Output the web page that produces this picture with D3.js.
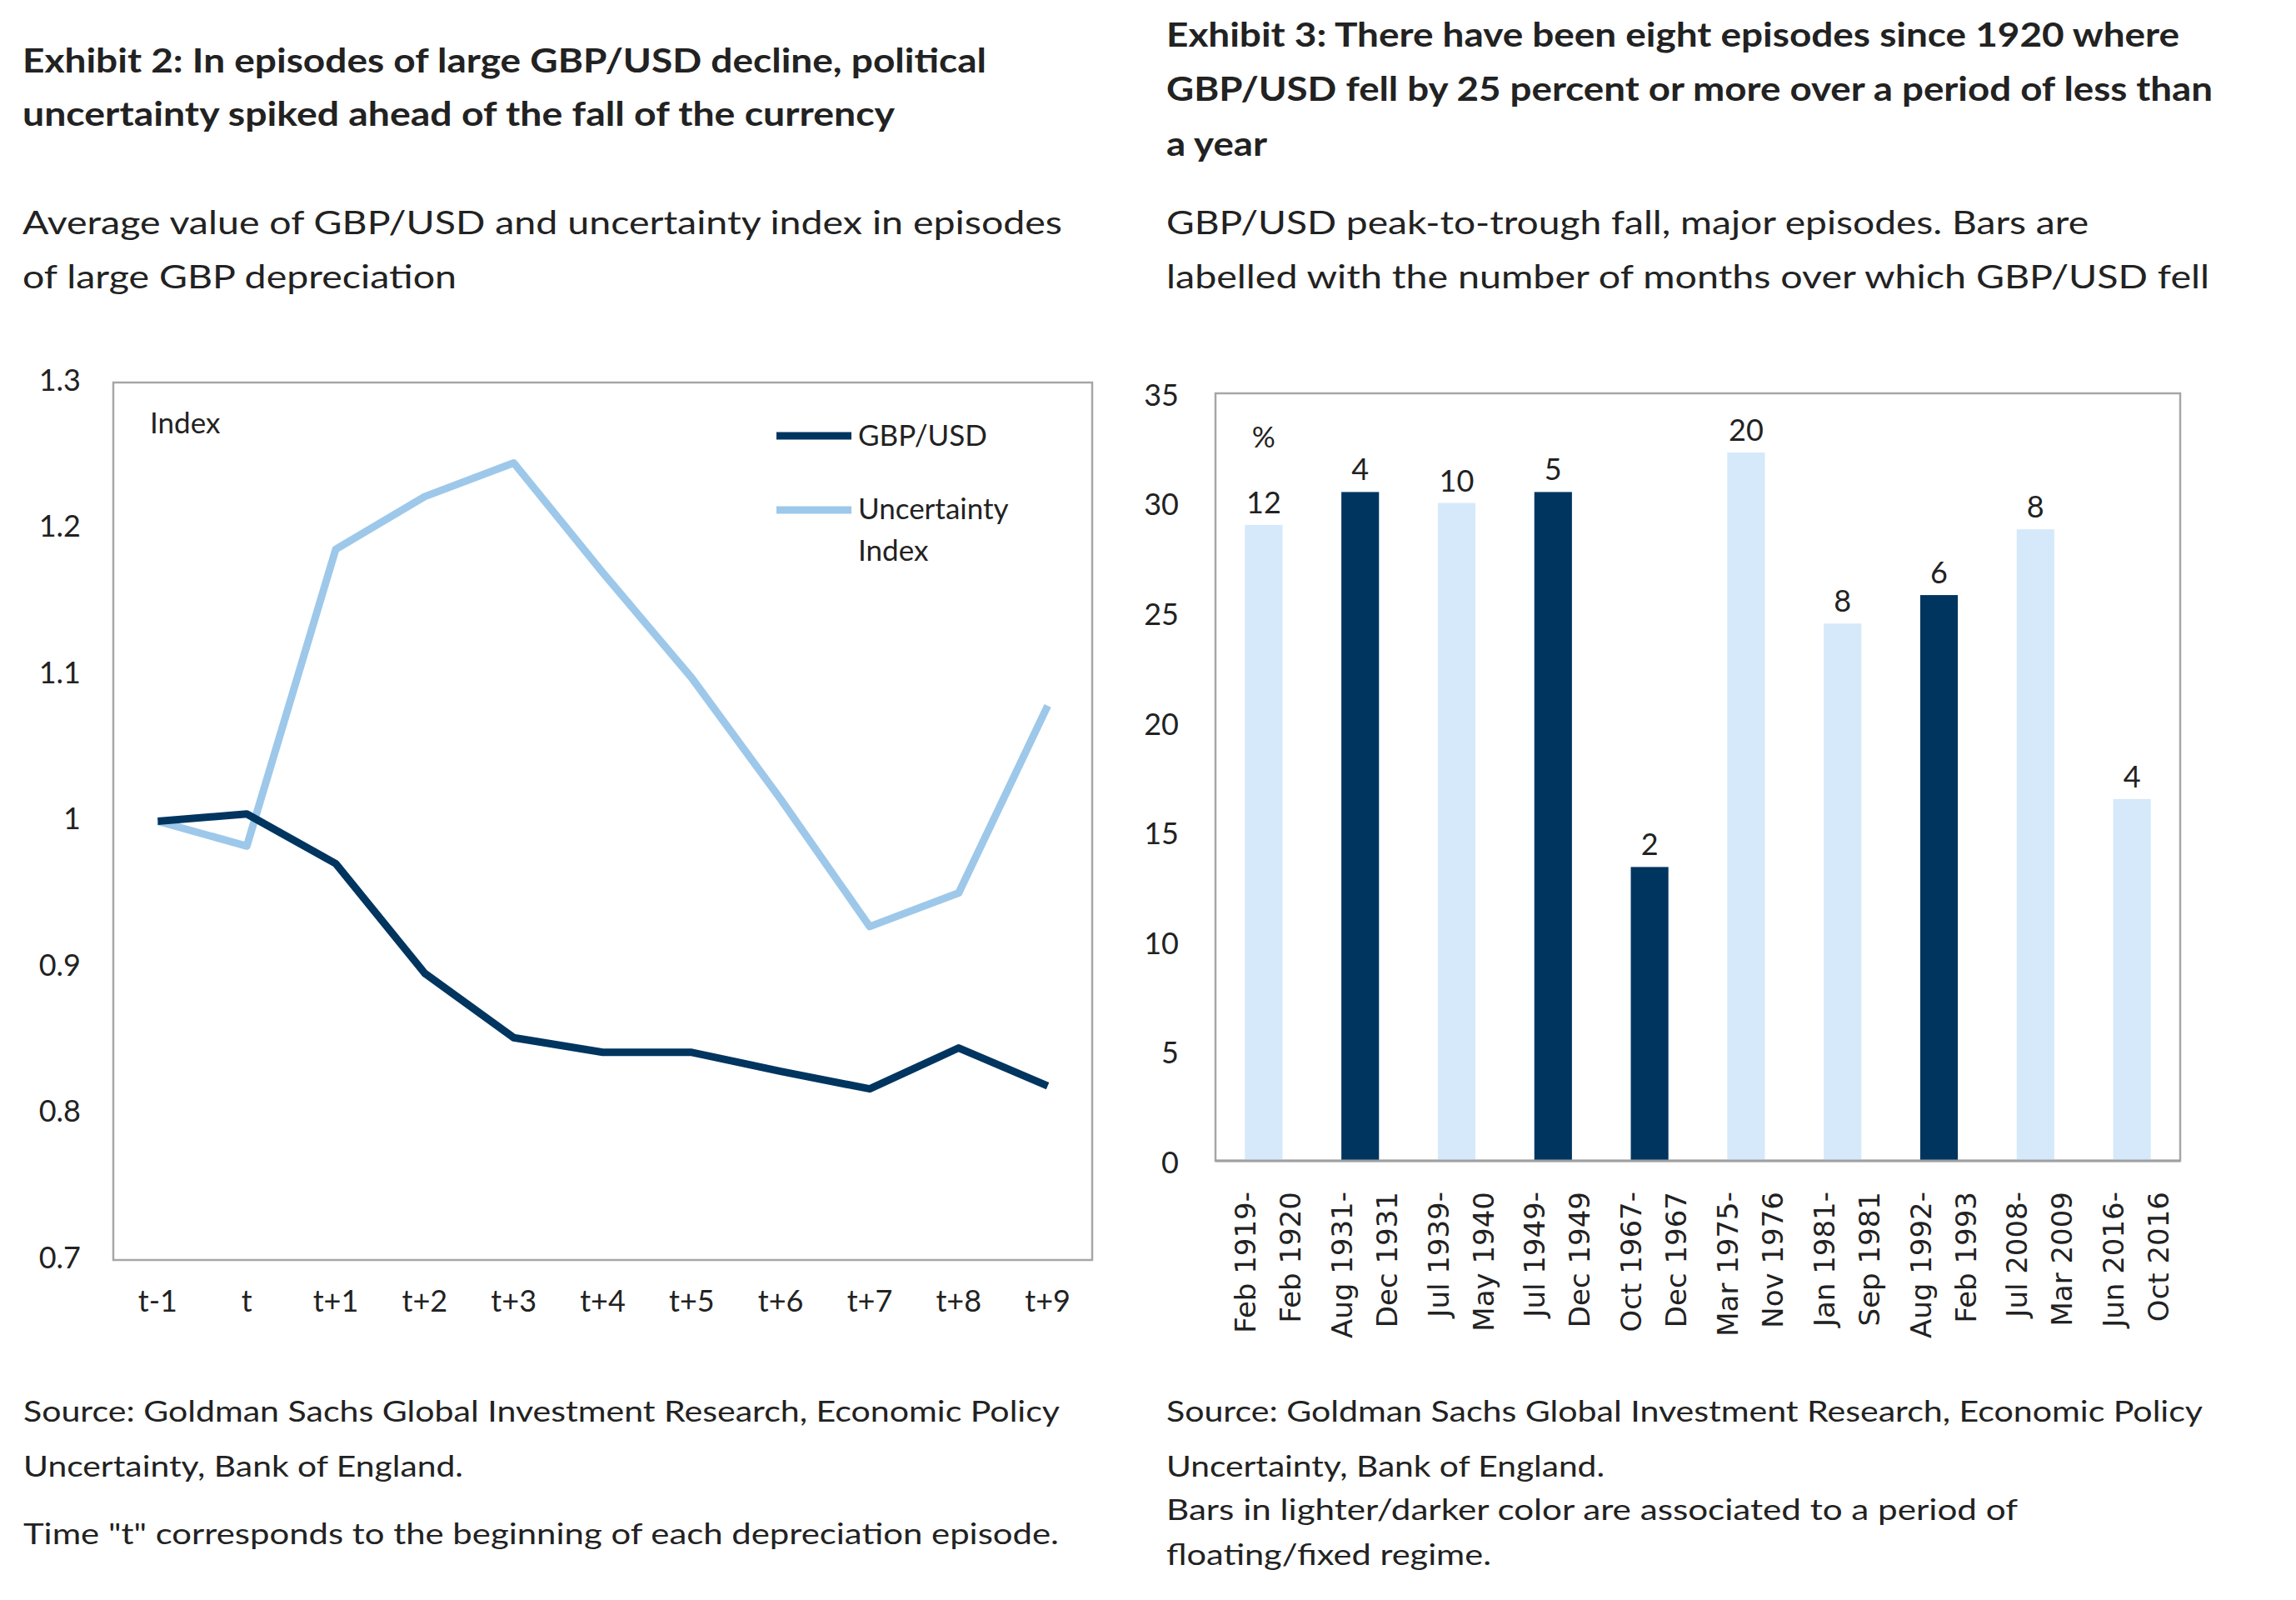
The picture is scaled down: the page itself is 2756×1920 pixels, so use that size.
<!DOCTYPE html>
<html>
<head>
<meta charset="utf-8">
<script src="https://cdn.jsdelivr.net/npm/d3@7"></script>
<style>
  body { margin: 0; background: #fff; }
  text { font-family: Lato, "Open Sans", sans-serif; fill: #222; }
  .xlab { font-family: "DejaVu Sans", sans-serif; }
</style>
</head>
<body>
<svg id="chart" width="2756" height="1920"></svg>
<script>
// Exhibit 2: average GBP/USD and uncertainty index around depreciation episodes
const periods = ['t-1', 't', 't+1', 't+2', 't+3', 't+4', 't+5', 't+6', 't+7', 't+8', 't+9'];
const gbpUsd = [1.000, 1.005, 0.971, 0.896, 0.852, 0.842, 0.842, 0.829, 0.817, 0.845, 0.819];
const uncertainty = [1.000, 0.983, 1.186, 1.222, 1.245, 1.170, 1.098, 1.015, 0.928, 0.951, 1.079];
const lineTicks = [0.7, 0.8, 0.9, 1.0, 1.1, 1.2, 1.3];

// Exhibit 3: GBP/USD peak-to-trough falls
const episodeStart = ['Feb 1919-', 'Aug 1931-', 'Jul 1939-', 'Jul 1949-', 'Oct 1967-', 'Mar 1975-', 'Jan 1981-', 'Aug 1992-', 'Jul 2008-', 'Jun 2016-'];
const episodeEnd = ['Feb 1920', 'Dec 1931', 'May 1940', 'Dec 1949', 'Dec 1967', 'Nov 1976', 'Sep 1981', 'Feb 1993', 'Mar 2009', 'Oct 2016'];
const fallPct = [29.0, 30.5, 30.0, 30.5, 13.4, 32.3, 24.5, 25.8, 28.8, 16.5];
const monthsFalling = [12, 4, 10, 5, 2, 20, 8, 6, 8, 4];
const regime = ['floating', 'fixed', 'floating', 'fixed', 'fixed', 'floating', 'floating', 'fixed', 'floating', 'floating'];
const barTicks = [0, 5, 10, 15, 20, 25, 30, 35];

const navy = '#003560';
const lightLine = '#9dc8ea';
const lightBar = '#d5e9fa';
const frame = '#a6a6a6';

const svg = d3.select('#chart');

// helper for a line of text stretched to the width it has in the exhibit
function textLine(str, x, y, width, size, weight) {
  return svg.append('text')
    .attr('x', x).attr('y', y)
    .attr('font-size', size)
    .attr('font-weight', weight || 400)
    .attr('textLength', width)
    .attr('lengthAdjust', 'spacingAndGlyphs')
    .text(str);
}

// ---- headings and notes ----
textLine('Exhibit 2: In episodes of large GBP/USD decline, political', 27, 87, 1157, 40, 700);
textLine('uncertainty spiked ahead of the fall of the currency', 27, 151, 1047, 40, 700);
textLine('Average value of GBP/USD and uncertainty index in episodes', 27, 281, 1248, 38);
textLine('of large GBP depreciation', 27, 346, 521, 38);

textLine('Exhibit 3: There have been eight episodes since 1920 where', 1400, 56, 1216, 40, 700);
textLine('GBP/USD fell by 25 percent or more over a period of less than', 1400, 121, 1256, 40, 700);
textLine('a year', 1400, 187, 121, 40, 700);
textLine('GBP/USD peak-to-trough fall, major episodes. Bars are', 1400, 281, 1107, 38);
textLine('labelled with the number of months over which GBP/USD fell', 1400, 346, 1252, 38);

textLine('Source: Goldman Sachs Global Investment Research, Economic Policy', 28, 1706, 1244, 34);
textLine('Uncertainty, Bank of England.', 28, 1772, 528, 34);
textLine('Time "t" corresponds to the beginning of each depreciation episode.', 28, 1853, 1243, 34);

textLine('Source: Goldman Sachs Global Investment Research, Economic Policy', 1400, 1706, 1244, 34);
textLine('Uncertainty, Bank of England.', 1400, 1772, 526, 34);
textLine('Bars in lighter/darker color are associated to a period of', 1400, 1824, 1022, 34);
textLine('floating/fixed regime.', 1400, 1878, 390, 34);

// ---- Exhibit 2: line chart ----
const L = { left: 136, right: 1311, top: 459, bottom: 1512 };
const x1 = d3.scaleBand().domain(periods).range([L.left, L.right]).padding(0);
const y1 = d3.scaleLinear().domain([0.7, 1.3]).range([L.bottom, L.top]);

svg.append('rect')
  .attr('x', L.left).attr('y', L.top)
  .attr('width', L.right - L.left).attr('height', L.bottom - L.top)
  .attr('fill', 'none').attr('stroke', frame).attr('stroke-width', 2.5);

const yAxis1 = svg.append('g')
  .attr('transform', `translate(${L.left},0)`)
  .call(d3.axisLeft(y1).tickValues(lineTicks).tickSize(0).tickPadding(39).tickFormat(d3.format('~g')));
yAxis1.select('.domain').remove();
yAxis1.selectAll('text').attr('font-size', 36).attr('dy', '0.26em');

const xAxis1 = svg.append('g')
  .attr('transform', `translate(0,${L.bottom})`)
  .call(d3.axisBottom(x1).tickSize(0).tickPadding(36));
xAxis1.select('.domain').remove();
xAxis1.selectAll('text').attr('font-size', 36);

const line1 = d3.line()
  .x((d, i) => x1(periods[i]) + x1.bandwidth() / 2)
  .y(d => y1(d));

svg.append('path').datum(uncertainty)
  .attr('d', line1).attr('fill', 'none')
  .attr('stroke', lightLine).attr('stroke-width', 9).attr('stroke-linejoin', 'round');
svg.append('path').datum(gbpUsd)
  .attr('d', line1).attr('fill', 'none')
  .attr('stroke', navy).attr('stroke-width', 9).attr('stroke-linejoin', 'round');

svg.append('text').attr('x', 180).attr('y', 520).attr('font-size', 35).text('Index');

// legend
const legend = svg.append('g');
legend.append('line').attr('x1', 932).attr('x2', 1022).attr('y1', 523).attr('y2', 523)
  .attr('stroke', navy).attr('stroke-width', 9);
legend.append('text').attr('x', 1030).attr('y', 535).attr('font-size', 35).text('GBP/USD');
legend.append('line').attr('x1', 932).attr('x2', 1022).attr('y1', 612).attr('y2', 612)
  .attr('stroke', lightLine).attr('stroke-width', 9);
legend.append('text').attr('x', 1030).attr('y', 623).attr('font-size', 35).text('Uncertainty');
legend.append('text').attr('x', 1030).attr('y', 673).attr('font-size', 35).text('Index');

// ---- Exhibit 3: bar chart ----
const B = { left: 1459, right: 2617, top: 472, bottom: 1393 };
const keys = episodeStart.map((s, i) => s + ' ' + episodeEnd[i]);
const x2 = d3.scaleBand().domain(keys).range([B.left, B.right]).paddingInner(0.61).paddingOuter(0.305);
const y2 = d3.scaleLinear().domain([0, 35]).range([B.bottom, B.top]);

svg.append('rect')
  .attr('x', B.left).attr('y', B.top)
  .attr('width', B.right - B.left).attr('height', B.bottom - B.top)
  .attr('fill', 'none').attr('stroke', frame).attr('stroke-width', 2.5);

svg.append('g').selectAll('rect')
  .data(fallPct)
  .enter()
  .append('rect')
  .attr('x', (d, i) => x2(keys[i]))
  .attr('y', d => y2(d))
  .attr('width', x2.bandwidth())
  .attr('height', d => y2(0) - y2(d))
  .attr('fill', (d, i) => regime[i] === 'fixed' ? navy : lightBar);

svg.append('line')
  .attr('x1', B.left).attr('x2', B.right).attr('y1', B.bottom).attr('y2', B.bottom)
  .attr('stroke', '#a0a0a0').attr('stroke-width', 3);

svg.append('g').selectAll('text')
  .data(fallPct)
  .enter()
  .append('text')
  .attr('x', (d, i) => x2(keys[i]) + x2.bandwidth() / 2)
  .attr('y', d => y2(d) - 14)
  .attr('text-anchor', 'middle')
  .attr('font-size', 36)
  .text((d, i) => monthsFalling[i]);

svg.append('text')
  .attr('x', x2(keys[0]) + x2.bandwidth() / 2).attr('y', B.top + 65)
  .attr('text-anchor', 'middle').attr('font-size', 35).text('%');

const yAxis2 = svg.append('g')
  .attr('transform', `translate(${B.left},0)`)
  .call(d3.axisLeft(y2).tickValues(barTicks).tickSize(0).tickPadding(44));
yAxis2.select('.domain').remove();
yAxis2.selectAll('text').attr('font-size', 36).attr('dy', '0.4em');

// rotated two-line category labels
const xLab = svg.append('g').selectAll('g')
  .data(keys)
  .enter()
  .append('g')
  .attr('transform', d => `translate(${x2(d) + x2.bandwidth() / 2},${B.bottom})`);

xLab.append('text')
  .attr('class', 'xlab')
  .attr('transform', 'rotate(-90)')
  .attr('x', -37).attr('y', -10)
  .attr('text-anchor', 'end').attr('font-size', 34)
  .text((d, i) => episodeStart[i]);

xLab.append('text')
  .attr('class', 'xlab')
  .attr('transform', 'rotate(-90)')
  .attr('x', -37).attr('y', 44)
  .attr('text-anchor', 'end').attr('font-size', 34)
  .text((d, i) => episodeEnd[i]);
</script>
</body>
</html>
